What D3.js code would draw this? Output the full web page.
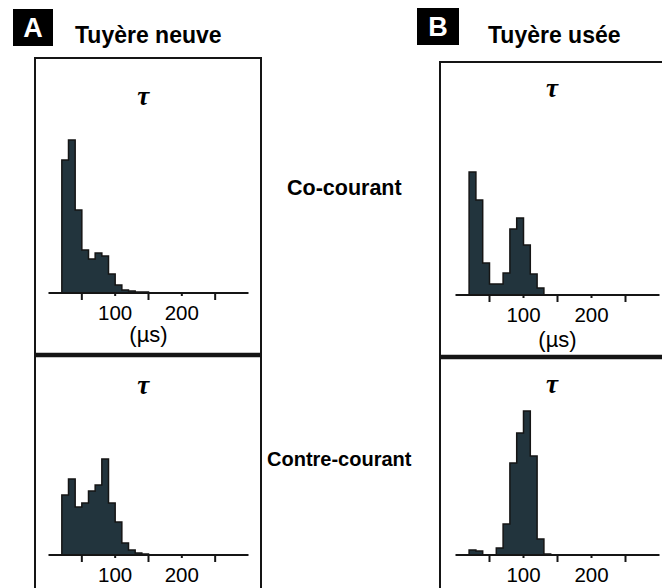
<!DOCTYPE html>
<html><head><meta charset="utf-8">
<script src="https://cdn.jsdelivr.net/npm/d3@7"></script>
<style>body{margin:0;background:#fff}svg{display:block}</style>
</head><body>
<svg id="c" width="662" height="588"></svg>
<script>
// ---- data ----
const binStart = 20;          // µs, first bin left edge
const binWidth = 10;          // µs
const coCourantNeuve    = [133, 153, 83, 43, 34, 40, 37, 19, 8, 3, 2, 1, 1];
const coCourantUsee     = [123, 95, 32, 11, 11, 22, 66, 77, 50, 21, 7];
const contreCourantNeuve= [60, 76, 48, 52, 64, 70, 96, 52, 33, 12, 5, 2, 1];
const contreCourantUsee = [5, 4, 0, 0, 7, 31, 92, 122, 144, 99, 16, 1];
const tickLabels = [100, 200];
const tickMarks = [50, 100, 150, 200, 250];
const columnTitles = ["Tuyère neuve", "Tuyère usée"];
const columnLetters = ["A", "B"];
const rowLabels = ["Co-courant", "Contre-courant"];
const unitLabel = "(µs)";
const symbolLabel = "τ";

const svg = d3.select("#c");
const barFill = "#22343d", ink = "#151515";

const cols = [
  {left:35, right:261, top:58, sep:355, x0:48.5, x1:248.5, letterX:13, letterY:9, letterW:40, titleX:75, unitDy:49},
  {left:440, right:672, top:62, sep:357, x0:455.5, x1:659.5, letterX:417, letterY:8, letterW:42, titleX:488, unitDy:52}
];
const rows = [
  {data:[coCourantNeuve, coCourantUsee], base:[293, 295], tau:[98, 90], unit:true},
  {data:[contreCourantNeuve, contreCourantUsee], base:[555, 555], tau:[387, 386], unit:false}
];

cols.forEach((c, ci) => {
  svg.append("rect").attr("x", c.letterX).attr("y", c.letterY).attr("width", c.letterW).attr("height", 37).attr("fill", "#000");
  svg.append("text").attr("x", c.letterX + c.letterW/2).attr("y", c.letterY + 28)
    .attr("text-anchor", "middle").attr("fill", "#fff")
    .style("font", "bold 27px 'Liberation Sans', Arial, sans-serif").text(columnLetters[ci]);
  svg.append("text").attr("x", c.titleX).attr("y", 43).attr("fill", "#000")
    .style("font", "bold 23px 'Liberation Sans', Arial, sans-serif").text(columnTitles[ci]);
  const g = svg.append("g").attr("fill", "none").attr("stroke", ink);
  g.append("line").attr("x1", c.left).attr("x2", c.right).attr("y1", c.top).attr("y2", c.top).attr("stroke-width", 2);
  g.append("line").attr("x1", c.left).attr("x2", c.left).attr("y1", c.top - 1).attr("y2", 600).attr("stroke-width", 2);
  g.append("line").attr("x1", c.right).attr("x2", c.right).attr("y1", c.top - 1).attr("y2", 600).attr("stroke-width", 2);
  g.append("line").attr("x1", c.left - 1).attr("x2", c.right + 1).attr("y1", c.sep).attr("y2", c.sep).attr("stroke-width", 4.5);

  const x = d3.scaleLinear().domain([0, 300]).range([c.x0, c.x1]);

  rows.forEach((r, ri) => {
    const base = r.base[ci];
    const y = d3.scaleLinear().domain([0, 160]).range([base, base - 160]);
    const vals = r.data[ci];
    const bins = vals.map((v, i) => ({x0: binStart + i*binWidth, x1: binStart + (i+1)*binWidth, v}));
    const pts = [[x(bins[0].x0), y(0)]];
    bins.forEach(b => { pts.push([x(b.x0), y(b.v)]); pts.push([x(b.x1), y(b.v)]); });
    pts.push([x(bins[bins.length-1].x1), y(0)]);
    svg.append("path").attr("d", d3.line()(pts) + "Z")
      .attr("fill", barFill).attr("stroke", ink).attr("stroke-width", 1.5).attr("stroke-linejoin", "miter");
    svg.append("line").attr("x1", x(0)).attr("x2", x(300)).attr("y1", base).attr("y2", base)
      .attr("stroke", ink).attr("stroke-width", 2);
    svg.append("g").selectAll("line").data(tickMarks).join("line")
      .attr("x1", d => x(d)).attr("x2", d => x(d))
      .attr("y1", base).attr("y2", d => base + (tickLabels.includes(d) ? 3 : 7))
      .attr("stroke", ink).attr("stroke-width", 2);
    svg.append("g").selectAll("text").data(tickLabels).join("text")
      .attr("x", d => x(d)).attr("y", base + 27).attr("text-anchor", "middle")
      .style("font", "20.5px 'Liberation Sans', Arial, sans-serif").attr("fill", "#000").text(d => d);
    if (r.unit) {
      svg.append("text").attr("x", x(150)).attr("y", base + c.unitDy).attr("text-anchor", "middle")
        .style("font", "22px 'Liberation Sans', Arial, sans-serif").attr("fill", "#000").text(unitLabel);
    }
    svg.append("text").attr("x", x(142)).attr("y", r.tau[ci] + 7).attr("text-anchor", "middle")
      .style("font", "italic bold 27px 'Liberation Serif', 'DejaVu Serif', serif").attr("fill", "#000").text(symbolLabel);
  });
});

svg.append("text").attr("x", 287).attr("y", 195)
  .style("font", "bold 21.5px 'Liberation Sans', Arial, sans-serif").attr("fill", "#000").text(rowLabels[0]);
svg.append("text").attr("x", 267).attr("y", 466)
  .style("font", "bold 20px 'Liberation Sans', Arial, sans-serif").attr("fill", "#000").text(rowLabels[1]);
</script>
</body></html>
